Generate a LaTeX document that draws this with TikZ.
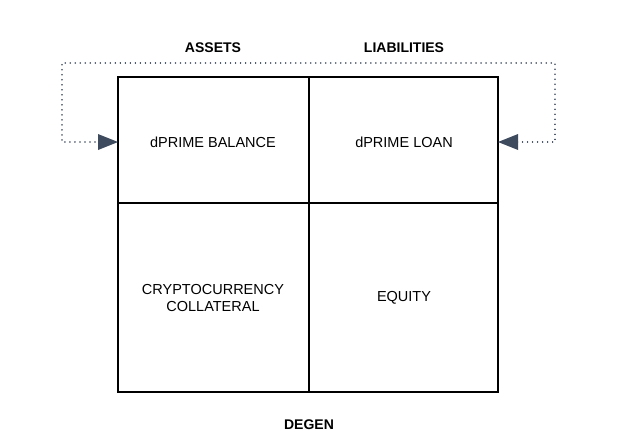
\documentclass[tikz,border=0pt]{standalone}
\usepackage{fontspec}
\setmainfont{Liberation Sans}
\usetikzlibrary{arrows.meta}
\definecolor{slate}{RGB}{62,74,94}
\begin{document}
\begin{tikzpicture}[x=1pt,y=-1pt,
  cell/.style={font=\fontsize{14.5}{17.5}\selectfont,align=center},
  head/.style={font=\bfseries\fontsize{14}{16}\selectfont},
  dotline/.style={draw=slate,line width=1.6pt,dash pattern=on 0.01pt off 5pt,line cap=round}]
\useasboundingbox (0,0) rectangle (639,447);
\draw[line width=2pt] (118,77) rectangle (498,392);
\draw[line width=2pt] (309,77) -- (309,392);
\draw[line width=2pt] (118,203) -- (498,203);
\node[head] (assets) at (213,48) {ASSETS};
\node[head] (liab) at (404,48) {LIABILITIES};
\node[head] (degen) at (309,425) {DEGEN};
\node[cell] (bal) at (213,142) {dPRIME BALANCE};
\node[cell] (loan) at (404,142) {dPRIME LOAN};
\node[cell] (coll) at (213,298) {CRYPTOCURRENCY\\COLLATERAL};
\node[cell] (eq) at (404,298) {EQUITY};
\coordinate (la) at (118,142);
\coordinate (ra) at (498,142);
\draw[dotline] (100,142) -- (62,142) -- (62,63) -- (555,63) -- (555,142) -- (516,142);
\fill[slate] (la) -- (98,134) -- (98,150) -- cycle;
\fill[slate] (ra) -- (518,134) -- (518,150) -- cycle;
\end{tikzpicture}
\end{document}
